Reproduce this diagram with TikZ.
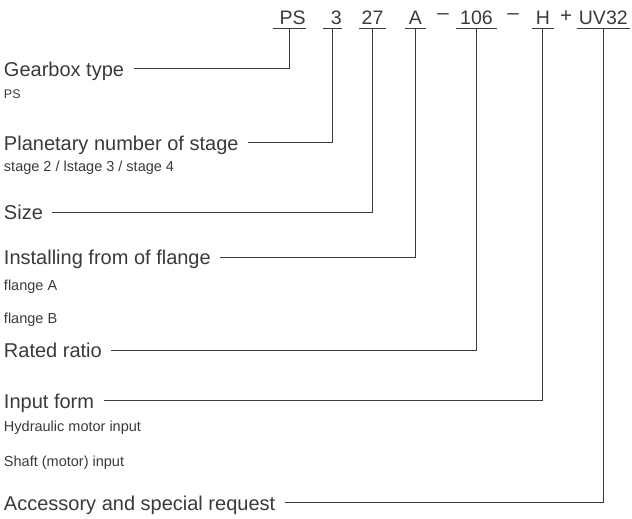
\documentclass[tikz,border=0pt]{standalone}
\usepackage{fontspec}
\setmainfont{Liberation Sans}
\definecolor{ink}{HTML}{3A3A3A}
\begin{document}
\begin{tikzpicture}[x=1pt,y=-1pt,
  every node/.style={inner sep=0pt, outer sep=0pt, text=ink},
  % code letters along the top, each on its own underline
  code/.style={font=\fontsize{19.5}{23}\selectfont, anchor=base,
    text height=14pt, text depth=0pt, inner ysep=3.3pt,
    text width=#1, align=center},
  sep/.style={font=\fontsize{20.5}{24}\selectfont, anchor=base},
  % captions on the left
  caption/.style={font=\fontsize{20}{24}\selectfont, anchor=west,
    text height=15.5pt, text depth=0pt},
  note/.style={font=\fontsize{14.5}{17}\selectfont, anchor=base west},
  rule/.style={draw=ink, line width=0.9pt},
  conn/.style={draw=ink, line width=0.9pt}
]
\useasboundingbox (0,0) rectangle (632,519);

% type code
\node[code=32.4pt, align=right] (ps)    at (289.5,25) {PS};
\node[code=19pt,   align=right] (stage) at (332.2,25) {3};
\node[code=27pt]                (size)  at (372.5,25) {27};
\node[code=20.7pt]              (flg)   at (415.3,25) {A};
\node[sep] (d1) at (443,20) {–};
\node[code=41pt]                (ratio) at (476.5,25) {106};
\node[sep] (d2) at (513,20) {–};
\node[code=22.3pt]              (inp)   at (542.8,25) {H};
\node[sep] (pl) at (566,22.5) {+};
\node[code=53.3pt]              (acc)   at (603.3,25) {UV32};

\foreach \n in {ps,stage,size,flg,ratio,inp,acc}
  \draw[rule] (\n.south west) -- (\n.south east);

% captions and their options
\node[caption] (cgear)  at (4,68.3)  {Gearbox type};
\node[note, font=\fontsize{12.5}{15}\selectfont] (ngear) at (4,98.3) {PS};
\node[caption] (cstage) at (4,142.3) {Planetary number of stage};
\node[note] (nstage) at (4,171.7) {stage 2 / lstage 3 / stage 4};
\node[caption] (csize)  at (4,212)   {Size};
\node[caption] (cflg)   at (4,257)   {Installing from of flange};
\node[note] (nflga) at (4,290)   {flange A};
\node[note] (nflgb) at (4,323.3) {flange B};
\node[caption] (cratio) at (4,350)   {Rated ratio};
\node[caption] (cinp)   at (4,400.3) {Input form};
\node[note] (ninpa) at (4,431.7) {Hydraulic motor input};
\node[note] (ninpb) at (4,466)   {Shaft (motor) input};
\node[caption] (cacc)   at (4,502.8) {Accessory and special request};

% leader lines from each caption up to its code letter
\draw[conn] ([xshift=9.5pt]cgear.east)  -| (ps.south);
\draw[conn] ([xshift=9.5pt]cstage.east) -| (stage.south);
\draw[conn] ([xshift=9.5pt]csize.east)  -| (size.south);
\draw[conn] ([xshift=9.5pt]cflg.east)   -| (flg.south);
\draw[conn] ([xshift=9.5pt]cratio.east) -| (ratio.south);
\draw[conn] ([xshift=9.5pt]cinp.east)   -| (inp.south);
\draw[conn] ([xshift=9.5pt]cacc.east)   -| (acc.south);
\end{tikzpicture}
\end{document}
